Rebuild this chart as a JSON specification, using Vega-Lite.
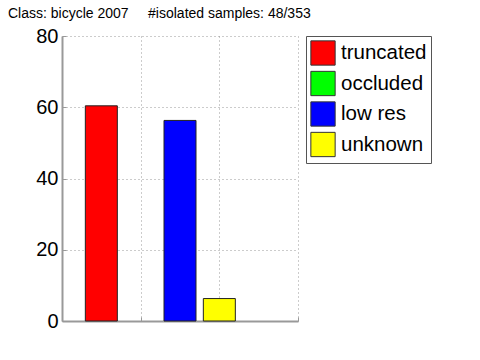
{
  "$schema": "https://vega.github.io/schema/vega-lite/v6.json",
  "width": 236,
  "height": 285,
  "autosize": {"type": "none"},
  "padding": {"left": 62, "top": 36, "right": 182, "bottom": 39},
  "background": "white",
  "config": {
    "view": {"stroke": null},
    "font": "Liberation Sans"
  },
  "title": {
    "text": "Class: bicycle 2007\u00a0\u00a0\u00a0\u00a0\u00a0#isolated samples: 48/353",
    "anchor": "start",
    "frame": "group",
    "dx": -54,
    "offset": -6,
    "baseline": "alphabetic",
    "fontSize": 14,
    "fontWeight": "normal",
    "font": "Liberation Sans",
    "color": "black"
  },
  "data": {
    "values": [
      {"category": "truncated", "pos": 1, "value": 60.4},
      {"category": "occluded", "pos": 2, "value": 0},
      {"category": "low res", "pos": 3, "value": 56.3},
      {"category": "unknown", "pos": 4, "value": 6.3}
    ]
  },
  "mark": {"type": "bar", "width": 32, "strokeWidth": 1},
  "encoding": {
    "x": {
      "field": "pos",
      "type": "quantitative",
      "scale": {"domain": [0, 6], "nice": false, "zero": false, "padding": 0},
      "axis": {
        "title": null,
        "values": [2, 4, 6],
        "labels": false,
        "tickSize": -4,
        "tickColor": "#999",
        "domainColor": "#999",
        "domainWidth": 2,
        "grid": true,
        "gridColor": "#999",
        "gridDash": [1, 3],
        "gridWidth": 1
      }
    },
    "y": {
      "field": "value",
      "type": "quantitative",
      "scale": {"domain": [0, 80], "nice": false},
      "axis": {
        "title": null,
        "values": [0, 20, 40, 60, 80],
        "tickSize": -4,
        "tickColor": "#999",
        "domainColor": "#999",
        "domainWidth": 2,
        "labelFontSize": 20,
        "labelColor": "black",
        "labelFont": "Liberation Sans",
        "labelPadding": 8,
        "grid": true,
        "gridColor": "#999",
        "gridDash": [1, 3],
        "gridWidth": 1
      }
    },
    "color": {
      "field": "category",
      "type": "nominal",
      "scale": {
        "domain": ["truncated", "occluded", "low res", "unknown"],
        "range": ["#ff0000", "#00ff00", "#0000ff", "#ffff00"]
      },
      "legend": {
        "title": null,
        "orient": "none",
        "legendX": 244,
        "legendY": 0,
        "strokeColor": "#555",
        "fillColor": "white",
        "padding": 4,
        "symbolType": "square",
        "symbolSize": 590,
        "symbolStrokeColor": "#333",
        "symbolStrokeWidth": 1,
        "symbolOpacity": 1,
        "labelFontSize": 20.5,
        "labelFont": "Liberation Sans",
        "labelColor": "black",
        "labelOffset": 5,
        "rowPadding": 0.5
      }
    },
    "stroke": {
      "condition": {"test": "datum.value > 0", "value": "#222"},
      "value": null
    },
    "opacity": {"value": 1}
  }
}
